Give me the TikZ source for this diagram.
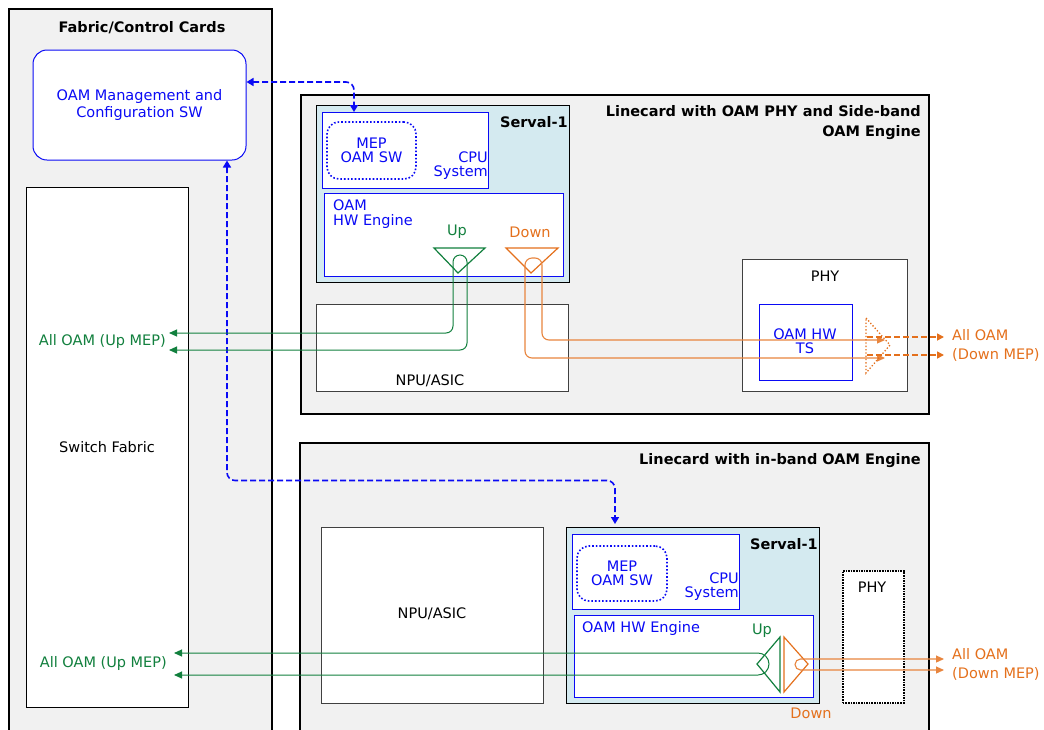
\documentclass[tikz,border=0pt]{standalone}
\usepackage{fontspec}
\setmainfont{DejaVu Sans}
\usetikzlibrary{positioning,arrows.meta}
\definecolor{cardgray}{RGB}{241,241,241}
\definecolor{servalblue}{RGB}{212,234,240}
\definecolor{oamblue}{RGB}{10,10,245}
\definecolor{upgreen}{RGB}{18,128,62}
\definecolor{downorange}{RGB}{228,112,28}

\begin{document}
\begin{tikzpicture}[x=1pt,y=-1pt,font=\fontsize{14.5pt}{14.5pt}\selectfont,inner sep=0pt,
    panel/.style={draw,line width=1.8pt,fill=cardgray,anchor=north west},
    serval/.style={draw,line width=1.4pt,fill=servalblue,anchor=north west},
    bluebox/.style={draw=oamblue,line width=1pt,fill=white,anchor=north west},
    plainbox/.style={draw=black!75,line width=1pt,fill=white,anchor=north west},
    mep/.style={draw=oamblue,line width=1.6pt,dotted,rounded corners=12pt,text=oamblue,align=center},
    boldlbl/.style={font=\fontsize{14.5pt}{20pt}\selectfont\bfseries},
    bluelbl/.style={text=oamblue},
    ctrl/.style={oamblue,line width=1.6pt,dash pattern=on 6pt off 3pt,rounded corners=8pt,
      {Triangle[length=7pt,width=8pt]}-{Triangle[length=7pt,width=8pt]}},
    upflow/.style={upgreen,line width=1pt,rounded corners=7pt,
      {Triangle[length=8pt,width=7pt]}-{Triangle[length=8pt,width=7pt]}},
    downflow/.style={downorange!85,line width=1.1pt,rounded corners=7pt,
      {Triangle[length=8pt,width=7pt]}-{Triangle[length=8pt,width=7pt]}},
    downdash/.style={downorange,line width=1.6pt,dash pattern=on 6pt off 3pt,-{Triangle[length=7pt,width=7pt]}},
    outlbl/.style={align=left,anchor=west,font=\fontsize{14.5pt}{19pt}\selectfont}
  ]
  \useasboundingbox (0,0) rectangle (1044,729);

  % fabric / control cards
  \node[panel,minimum width=263pt,minimum height=740pt] (fabric) at (8,8) {};
  \node[boldlbl] (fabrictitle) at (142,28) {Fabric/Control Cards};
  \node[draw=oamblue,line width=1pt,fill=white,rounded corners=14pt,minimum width=213pt,minimum height=110pt,
    text=oamblue,align=center,font=\fontsize{14.5pt}{17.5pt}\selectfont] (mgmt) at (139.5,105) {OAM Management and\\Configuration SW};
  \node[plainbox,draw=black,anchor=center,minimum width=162pt,minimum height=520pt] (switch) at (107,447) {Switch Fabric};

  % linecard with side-band engine
  \node[panel,minimum width=628pt,minimum height=319pt] (lc1) at (300,94) {};
  \node[boldlbl,align=right,anchor=east] (lc1title) at (921,123) {Linecard with OAM PHY and Side-band\\OAM Engine};
  \node[serval,minimum width=253pt,minimum height=177pt] (serval1) at (316,105) {};
  \node[boldlbl,anchor=east] (serval1lbl) at (568,122) {Serval-1};
  \node[bluebox,minimum width=166pt,minimum height=76pt] (cpu1) at (322,112) {};
  \node[bluelbl,align=right,anchor=south east] (cpu1lbl) at (488,180) {CPU\\System};
  \node[mep,minimum width=89pt,minimum height=57pt] (mep1) at (371.5,150.5) {MEP\\OAM SW};
  \node[bluebox,minimum width=239pt,minimum height=83pt] (hw1) at (324,193) {};
  \node[bluelbl,align=left,anchor=north west] (hw1lbl) at (333,200) {OAM\\HW Engine};
  \draw[upgreen,line width=1.2pt] (434,248) -- (485,248) -- (458,273) -- cycle;
  \draw[downorange,line width=1.2pt] (506,248) -- (558,248) -- (531,273) -- cycle;
  \node[text=upgreen] (up1) at (457,232) {Up};
  \node[text=downorange] (down1) at (530,232) {Down};
  \node[plainbox,minimum width=252pt,minimum height=87pt] (npu1) at (316,304) {};
  \node (npu1lbl) at (430,381) {NPU/ASIC};
  \node[plainbox,minimum width=165pt,minimum height=132pt] (phy1) at (742,259) {};
  \node (phy1lbl) at (825,276) {PHY};
  \node[bluebox,minimum width=93pt,minimum height=76pt] (ts) at (759,304) {};
  \node[bluelbl,align=center] (tslbl) at (805,341) {OAM HW\\TS};

  % linecard with in-band engine
  \node[panel,minimum width=629pt,minimum height=300pt] (lc2) at (299,442) {};
  \node[boldlbl,anchor=east] (lc2title) at (921,461) {Linecard with in-band OAM Engine};
  \node[plainbox,minimum width=222pt,minimum height=176pt] (npu2) at (321,527) {};
  \node (npu2lbl) at (432,614) {NPU/ASIC};
  \node[serval,minimum width=253pt,minimum height=176pt] (serval2) at (566,527) {};
  \node[boldlbl,anchor=east] (serval2lbl) at (818,544) {Serval-1};
  \node[bluebox,minimum width=167pt,minimum height=75pt] (cpu2) at (572,534) {};
  \node[bluelbl,align=right,anchor=south east] (cpu2lbl) at (739,601) {CPU\\System};
  \node[mep,minimum width=90pt,minimum height=55pt] (mep2) at (622,573.5) {MEP\\OAM SW};
  \node[bluebox,minimum width=239pt,minimum height=82pt] (hw2) at (574,615) {};
  \node[bluelbl,anchor=west] (hw2lbl) at (582,628) {OAM HW Engine};
  \draw[upgreen,line width=1.2pt] (780,637) -- (780,692) -- (757,664) -- cycle;
  \draw[downorange,line width=1.2pt] (784,637) -- (784,692) -- (808,664) -- cycle;
  \node[text=upgreen] (up2) at (762,631) {Up};
  \node[text=downorange] (down2) at (811,713) {Down};
  \node[draw,line width=1.6pt,densely dotted,fill=white,anchor=north west,minimum width=61pt,minimum height=132pt] (phy2) at (842,570) {};
  \node (phy2lbl) at (872,587) {PHY};

  % control paths
  \draw[ctrl] ([yshift=23pt]mgmt.east) -| ([xshift=32pt]cpu1.north west);
  \draw[ctrl,shorten >=3pt] ([xshift=87.5pt]mgmt.south) -- ++(0,320) -| ([xshift=49pt]serval2.north west);

  % OAM flows, side-band card
  \coordinate (upA) at (169,333);
  \coordinate (upB) at (169,350);
  \coordinate (dnA) at (885,340);
  \coordinate (dnB) at (885,358);
  \draw[upflow] (upA) -| (453,255) -| (467,350) -- (upB);
  \draw[downflow] (dnA) -| (542,258) -| (525,358) -- (dnB);
  \draw[downorange,line width=1.3pt,dotted] (866,318) -- (890,345) -- (866,373) -- cycle;
  \coordinate (tsA) at (867,337);
  \coordinate (tsB) at (867,355);
  \coordinate (outA) at (944,337);
  \coordinate (outB) at (944,355);
  \draw[downdash] (tsA) -- (outA);
  \draw[downdash] (tsB) -- (outB);
  \node[text=upgreen,anchor=east] (upmep1) at (166,341) {All OAM (Up MEP)};
  \node[outlbl,text=downorange] (downmep1) at (952,345.5) {All OAM\\(Down MEP)};

  % OAM flows, in-band card
  \coordinate (upC) at (174,653);
  \coordinate (upD) at (174,675);
  \coordinate (dnC) at (944,659);
  \coordinate (dnD) at (944,670);
  \draw[upflow,rounded corners=11pt] (upC) -- (769,653) |- (upD);
  \draw[downflow,rounded corners=5.5pt] (dnC) -- (795,659) |- (dnD);
  \node[text=upgreen,anchor=east] (upmep2) at (167,663) {All OAM (Up MEP)};
  \node[outlbl,text=downorange] (downmep2) at (952,664.5) {All OAM\\(Down MEP)};
\end{tikzpicture}
\end{document}
